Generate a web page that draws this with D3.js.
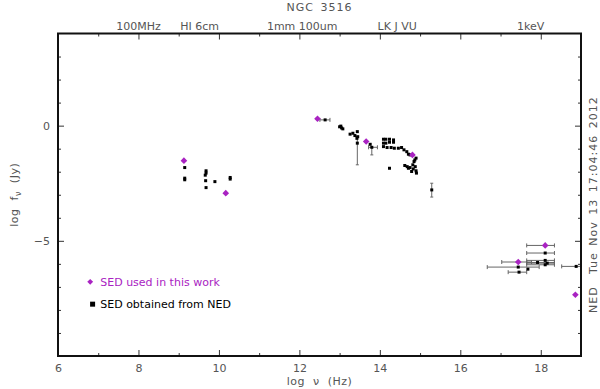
<!DOCTYPE html>
<html>
<head>
<meta charset="utf-8">
<script src="https://cdn.jsdelivr.net/npm/d3@7"></script>
<style>
  body { margin: 0; background: #fff; }
  text { font-family: "DejaVu Sans", sans-serif; }
</style>
</head>
<body>
<div id="chart"></div>
<script>
// SED points used in this work (log nu, log f_nu)
const usedNu   = [9.13, 10.17, 12.45, 13.66, 14.81, 17.44, 18.11, 18.86];
const usedFlux = [-1.52, -2.93, 0.30, -0.69, -1.27, -5.92, -5.20, -7.34];
// x error ranges for the used points (index, lo, hi)
const usedXErr = [[5, 17.03, 17.77], [6, 17.65, 18.34]];

// SED points obtained from NED
const nedNu = [
  9.15, 9.15, 9.15, 9.68, 9.68, 9.66, 9.67, 9.68, 9.90, 10.28, 10.28,
  12.64, 13.00, 13.05, 13.08, 13.03, 13.26, 13.33, 13.38, 13.44, 13.43, 13.45, 13.44, 13.76, 13.80,
  14.09, 14.15, 14.24, 14.34, 14.09, 14.15, 14.24, 14.34, 14.09, 14.18, 14.28, 14.36,
  14.46, 14.54, 14.60, 14.67, 14.71, 14.75,
  14.85, 14.90, 14.87, 14.82, 14.62, 14.68, 14.75, 14.71, 14.83, 14.79, 14.90, 14.91, 14.88,
  14.24, 15.29,
  18.11, 17.92, 18.11, 18.16, 18.11, 17.44, 17.46, 17.68, 18.88
];
const nedFlux = [
  -1.82, -2.28, -2.35, -1.96, -2.06, -2.15, -2.39, -2.69, -2.43, -2.25, -2.32,
  0.25, -0.05, -0.10, -0.14, -0.02, -0.37, -0.33, -0.43, -0.26, -0.55, -0.48, -0.76, -0.81, -0.94,
  -0.59, -0.59, -0.59, -0.62, -0.76, -0.76, -0.72, -0.72, -0.91, -0.95, -0.95, -0.98,
  -0.98, -0.95, -1.05, -1.13, -1.24, -1.27,
  -1.56, -1.41, -1.49, -1.70, -1.73, -1.78, -1.82, -1.85, -1.88, -1.99, -1.96, -2.06, -1.78,
  -1.85, -2.79,
  -5.53, -5.94, -5.85, -5.97, -6.04, -6.14, -6.36, -6.23, -6.11
];
// error ranges for NED points (index, lo, hi)
const nedXErr = [
  [11, 12.51, 12.76], [24, 13.72, 13.94],
  [58, 17.65, 18.34], [59, 17.65, 18.34], [60, 17.65, 18.34], [61, 17.65, 18.34], [62, 17.65, 18.34],
  [63, 16.67, 17.96], [64, 17.19, 17.65], [66, 18.52, 19.3]
];
const nedYErr = [[22, -0.48, -1.70], [24, -0.94, -1.27], [57, -2.50, -3.10]];

// axis ticks and labels
const xMajor = [6, 8, 10, 12, 14, 16, 18];
const xMinor = [7, 9, 11, 13, 15, 17, 19];
const yMajor = [0, -5];
const yMinor = [3, 2, 1, -1, -2, -3, -4, -6, -7, -8, -9];
const bandLabels = ["100MHz", "HI 6cm", "1mm 100um", "LK J VU", "1keV"];
const bandNu = [8.0, 9.52, 12.07, 14.43, 17.75];

const width = 600, height = 389;
const purple = "#a923c2";
const textCol = "#555";

const svg = d3.select("#chart").append("svg")
  .attr("width", width).attr("height", height);

const x = d3.scaleLinear().domain([6, 19]).range([58, 581]);
const y = d3.scaleLinear().domain([4, -10]).range([33.5, 356]);

const plot = svg.append("g");
plot.append("clipPath").attr("id", "clip")
  .append("rect").attr("x", 58).attr("y", 33.5).attr("width", 523).attr("height", 322.5);

// axes, ticks pointing inward
function styleAxis(g) {
  g.select(".domain").remove();
  g.selectAll(".tick line").attr("stroke", "#333");
  g.selectAll(".tick text").attr("fill", textCol).style("font-size", "11px");
}
svg.append("g").attr("transform", `translate(0,${y(-10)})`)
  .call(d3.axisBottom(x).tickValues(xMajor).tickSize(-6).tickPadding(8).tickFormat(d3.format("d")))
  .call(styleAxis);
svg.append("g").attr("transform", `translate(0,${y(-10)})`)
  .call(d3.axisBottom(x).tickValues(xMinor).tickSize(-3).tickFormat(""))
  .call(styleAxis);
svg.append("g").attr("transform", `translate(0,${y(4)})`)
  .call(d3.axisTop(x).tickValues(xMajor).tickSize(-6).tickFormat(""))
  .call(styleAxis);
svg.append("g").attr("transform", `translate(0,${y(4)})`)
  .call(d3.axisTop(x).tickValues(xMinor).tickSize(-3).tickFormat(""))
  .call(styleAxis);
svg.append("g").attr("transform", `translate(${x(6)},0)`)
  .call(d3.axisLeft(y).tickValues(yMajor).tickSize(-6).tickPadding(8).tickFormat(d => d < 0 ? "\u2212" + (-d) : d))
  .call(styleAxis);
svg.append("g").attr("transform", `translate(${x(6)},0)`)
  .call(d3.axisLeft(y).tickValues(yMinor).tickSize(-3).tickFormat(""))
  .call(styleAxis);
svg.append("g").attr("transform", `translate(${x(19)},0)`)
  .call(d3.axisRight(y).tickValues(yMajor).tickSize(-6).tickFormat(""))
  .call(styleAxis);
svg.append("g").attr("transform", `translate(${x(19)},0)`)
  .call(d3.axisRight(y).tickValues(yMinor).tickSize(-3).tickFormat(""))
  .call(styleAxis);

// frame
svg.append("rect")
  .attr("x", x(6)).attr("y", y(4))
  .attr("width", x(19) - x(6)).attr("height", y(-10) - y(4))
  .attr("fill", "none").attr("stroke", "#111").attr("stroke-width", 2);

// band labels on top
svg.selectAll(".band").data(bandLabels).enter().append("text")
  .attr("class", "band")
  .attr("x", (d, i) => x(bandNu[i])).attr("y", 30)
  .attr("text-anchor", "middle").attr("fill", textCol)
  .style("font-size", "11px")
  .text(d => d);

// titles
svg.append("text").attr("x", (x(6) + x(19)) / 2).attr("y", 11)
  .attr("text-anchor", "middle").attr("fill", textCol).style("font-size", "11px")
  .style("letter-spacing", "1px").style("word-spacing", "2px")
  .text("NGC 3516");
svg.append("text").attr("x", (x(6) + x(19)) / 2).attr("y", 385)
  .attr("text-anchor", "middle").attr("fill", textCol).style("font-size", "11px")
  .style("letter-spacing", "0.5px").style("word-spacing", "4px")
  .text("log \u03bd (Hz)");
const yl = svg.append("text")
  .attr("transform", `translate(18,${y(-3)}) rotate(-90)`)
  .attr("text-anchor", "middle").attr("fill", textCol).style("font-size", "11px")
  .style("letter-spacing", "0.5px").style("word-spacing", "4px");
yl.append("tspan").text("log f");
yl.append("tspan").attr("dy", 3).style("font-size", "8px").text("\u03bd");
yl.append("tspan").attr("dy", -3).text(" (Jy)");

svg.append("text")
  .attr("transform", `translate(597,274) rotate(-90)`)
  .attr("fill", textCol).style("font-size", "11px")
  .style("letter-spacing", "1px").style("word-spacing", "2px")
  .text("Tue Nov 13 17:04:46 2012");
svg.append("text")
  .attr("transform", `translate(597,313) rotate(-90)`)
  .attr("fill", textCol).style("font-size", "11px")
  .style("letter-spacing", "1px")
  .text("NED");

// data layer
const data = plot.append("g").attr("clip-path", "url(#clip)");

// error bars
const xErrAll = usedXErr.map(e => ({ xv: usedNu[e[0]], yv: usedFlux[e[0]], lo: e[1], hi: e[2] }))
  .concat(nedXErr.map(e => ({ xv: nedNu[e[0]], yv: nedFlux[e[0]], lo: e[1], hi: e[2] })));
data.selectAll(".xerr").data(xErrAll).enter().append("path")
  .attr("class", "xerr")
  .attr("d", d => `M${x(d.lo)},${y(d.yv)}H${x(d.hi)}M${x(d.lo)},${y(d.yv) - 2}v4M${x(d.hi)},${y(d.yv) - 2}v4`)
  .attr("stroke", "#666").attr("fill", "none").attr("stroke-width", 1);

const yErrAll = nedYErr.map(e => ({ xv: nedNu[e[0]], lo: e[1], hi: e[2] }));
data.selectAll(".yerr").data(yErrAll).enter().append("path")
  .attr("class", "yerr")
  .attr("d", d => `M${x(d.xv)},${y(d.lo)}V${y(d.hi)}M${x(d.xv) - 1.5},${y(d.lo)}h3M${x(d.xv) - 1.5},${y(d.hi)}h3`)
  .attr("stroke", "#666").attr("fill", "none").attr("stroke-width", 1);

// NED points: small black squares
data.selectAll(".ned").data(nedNu).enter().append("rect")
  .attr("class", "ned")
  .attr("x", d => x(d) - 1.5).attr("y", (d, i) => y(nedFlux[i]) - 1.5)
  .attr("width", 3).attr("height", 3).attr("fill", "#000");

// used points: purple diamonds
const diamond = d3.symbol().type(d3.symbolDiamond2).size(28);
data.selectAll(".used").data(usedNu).enter().append("path")
  .attr("class", "used")
  .attr("transform", (d, i) => `translate(${x(d)},${y(usedFlux[i])})`)
  .attr("d", diamond).attr("fill", purple);

// legend
const legend = svg.append("g");
legend.append("path")
  .attr("transform", `translate(${x(6.8)},${y(-6.78)})`)
  .attr("d", d3.symbol().type(d3.symbolDiamond2).size(22)).attr("fill", purple);
legend.append("text").attr("x", x(7.05)).attr("y", y(-6.78) + 4)
  .attr("fill", purple).style("font-size", "11px").text("SED used in this work");
legend.append("rect")
  .attr("x", x(6.86) - 2.5).attr("y", y(-7.75) - 2.5).attr("width", 5).attr("height", 5).attr("fill", "#000");
legend.append("text").attr("x", x(7.05)).attr("y", y(-7.75) + 4)
  .attr("fill", "#000").style("font-size", "11px").text("SED obtained from NED");
</script>
</body>
</html>
